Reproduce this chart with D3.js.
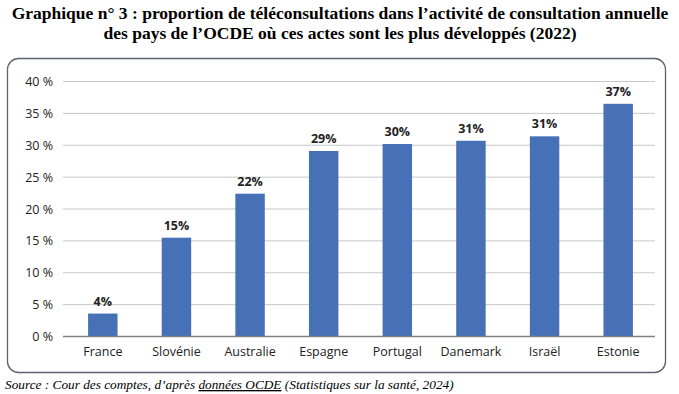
<!DOCTYPE html>
<html lang="fr">
<head>
<meta charset="UTF-8">
<title>Graphique n° 3</title>
<script src="https://d3js.org/d3.v7.min.js"></script>
<style>
    body { margin: 0; background: #fff; }
    svg { display: block; }
    .title { font-family: "Liberation Serif", "Times New Roman", serif; font-weight: bold; font-size: 17.5px; fill: #000; }
    .source { font-family: "Liberation Serif", "Times New Roman", serif; font-style: italic; font-size: 13.3px; fill: #000; }
    .tick text { font-family: "Open Sans", "Noto Sans", sans-serif; font-size: 12.5px; fill: #222; }
    .val { font-family: "Open Sans", "Noto Sans", sans-serif; font-size: 12.5px; font-weight: bold; fill: #222; }
</style>
</head>
<body>
<script>
    // data
    const countries = ['France', 'Slovénie', 'Australie', 'Espagne', 'Portugal', 'Danemark', 'Israël', 'Estonie'];
    const values = [3.6, 15.5, 22.4, 29.1, 30.2, 30.7, 31.4, 36.5];
    const labels = ['4%', '15%', '22%', '29%', '30%', '31%', '31%', '37%'];
    const yTicks = [0, 5, 10, 15, 20, 25, 30, 35, 40];

    const width = 679, height = 394;
    const svg = d3.select('body').append('svg')
        .attr('width', width)
        .attr('height', height);

    // title
    const title = svg.append('text').attr('class', 'title').attr('text-anchor', 'middle');
    title.append('tspan').attr('x', 340).attr('y', 19)
        .text('Graphique n° 3 : proportion de téléconsultations dans l’activité de consultation annuelle');
    title.append('tspan').attr('x', 340).attr('y', 39)
        .text('des pays de l’OCDE où ces actes sont les plus développés (2022)');

    // frame
    svg.append('rect')
        .attr('x', 7.5).attr('y', 58.5)
        .attr('width', 658).attr('height', 314)
        .attr('rx', 11)
        .attr('fill', '#fff')
        .attr('stroke', '#5a6270')
        .attr('stroke-width', 1.3);

    const x = d3.scaleBand().domain(countries).range([66, 655]).paddingInner(0.6).paddingOuter(0.3);
    const y = d3.scaleLinear().domain([0, 40]).range([336.5, 81.5]);

    // gridlines
    svg.append('g')
        .selectAll('line')
        .data(yTicks.filter(d => d > 0))
        .join('line')
        .attr('x1', 63).attr('x2', 655)
        .attr('y1', d => y(d)).attr('y2', d => y(d))
        .attr('stroke', '#c8c8c8')
        .attr('stroke-width', 1);

    // y axis labels
    const yAxis = svg.append('g')
        .attr('transform', 'translate(53,0)')
        .call(d3.axisLeft(y).tickValues(yTicks).tickSize(0).tickPadding(0).tickFormat(d => d + ' %'));
    yAxis.select('.domain').remove();

    // bars
    svg.append('g')
        .selectAll('rect')
        .data(values)
        .join('rect')
        .attr('x', (d, i) => x(countries[i]))
        .attr('y', d => y(d))
        .attr('width', x.bandwidth())
        .attr('height', d => y(0) - y(d))
        .attr('fill', '#4671b6');

    // value labels
    svg.append('g')
        .selectAll('text')
        .data(values)
        .join('text')
        .attr('class', 'val')
        .attr('text-anchor', 'middle')
        .attr('x', (d, i) => x(countries[i]) + x.bandwidth() / 2)
        .attr('y', d => y(d) - 8)
        .text((d, i) => labels[i]);

    // x axis
    const xAxis = svg.append('g')
        .attr('transform', `translate(0,${y(0)})`)
        .call(d3.axisBottom(x).tickSize(0).tickPadding(11));
    xAxis.select('.domain').remove();
    svg.append('line')
        .attr('x1', 63).attr('x2', 655)
        .attr('y1', y(0)).attr('y2', y(0))
        .attr('stroke', '#7a7f88')
        .attr('stroke-width', 1.3);

    // source
    const src = svg.append('text').attr('class', 'source').attr('x', 5).attr('y', 389);
    src.append('tspan').text('Source : Cour des comptes, d’après ');
    src.append('tspan').attr('text-decoration', 'underline').text('données OCDE');
    src.append('tspan').text(' (Statistiques sur la santé, 2024)');
</script>
</body>
</html>
